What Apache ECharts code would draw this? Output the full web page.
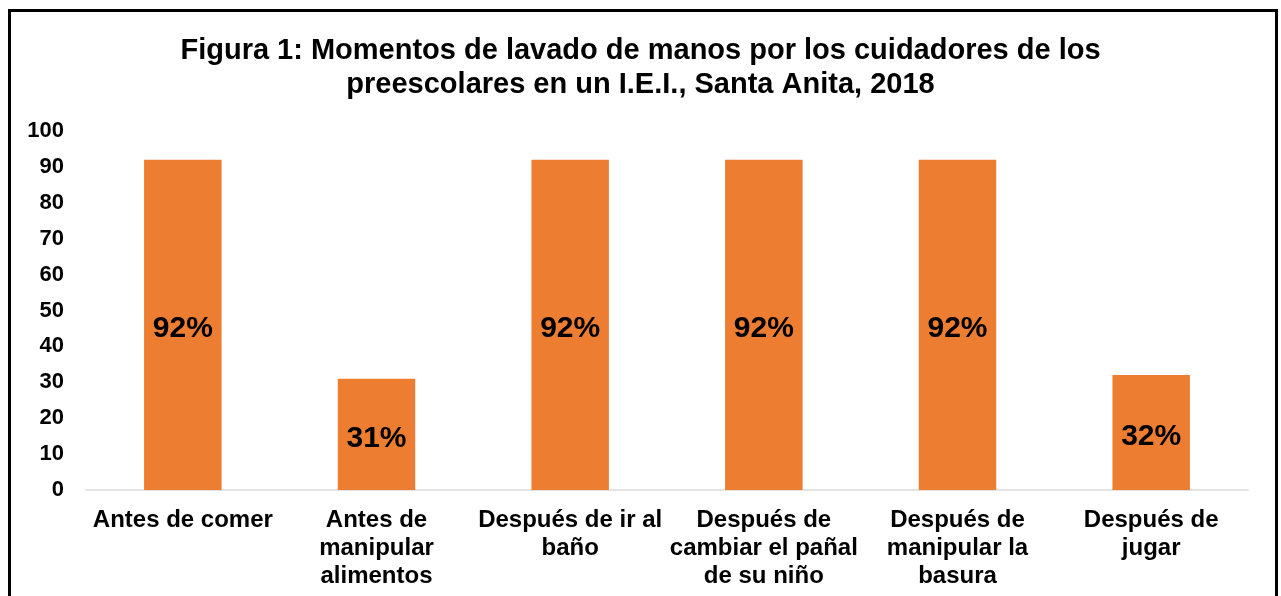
<!DOCTYPE html>
<html>
<head>
<meta charset="utf-8">
<script src="https://cdn.jsdelivr.net/npm/echarts@6/dist/echarts.min.js"></script>
<style>
    html, body { margin: 0; padding: 0; background: #ffffff; }
    #chart { width: 1281px; height: 596px; }
</style>
</head>
<body>
<div id="chart"></div>
<script>
const TITLE = "Figura 1: Momentos de lavado de manos por los cuidadores de los\npreescolares en un I.E.I., Santa Anita, 2018";
const categories = [
    "Antes de comer",
    "Antes de\nmanipular\nalimentos",
    "Después de ir al\nbaño",
    "Después de\ncambiar el pañal\nde su niño",
    "Después de\nmanipular la\nbasura",
    "Después de\njugar",
];
const values = [92, 31, 92, 92, 92, 32];

const FONT = "'Liberation Sans', Arial, sans-serif";

const chart = echarts.init(document.getElementById("chart"));

chart.setOption({
    backgroundColor: "#ffffff",
    animation: false,
    title: {
        text: TITLE,
        left: "center",
        top: 29,
        textStyle: {
            fontFamily: FONT,
            fontSize: 29,
            fontWeight: "bold",
            color: "#000000",
            lineHeight: 34,
        },
    },
    graphic: [
        {
            type: "rect",
            shape: { x: 9.5, y: 10.5, width: 1267, height: 620 },
            style: { fill: "none", stroke: "#000000", lineWidth: 3 },
            silent: true,
        },
    ],
    grid: {
        left: 86,
        right: 33,
        top: 131,
        bottom: 106,
    },
    xAxis: {
        type: "category",
        data: categories,
        axisLine: { show: true, lineStyle: { color: "#d9d9d9", width: 1.5 } },
        axisTick: { show: false },
        axisLabel: {
            interval: 0,
            margin: 16,
            fontFamily: FONT,
            fontSize: 24,
            fontWeight: "bold",
            color: "#000000",
            lineHeight: 28,
        },
    },
    yAxis: {
        type: "value",
        min: 0,
        max: 100,
        interval: 10,
        splitLine: { show: false },
        axisLine: { show: false },
        axisTick: { show: false },
        axisLabel: {
            margin: 22,
            fontFamily: FONT,
            fontSize: 22,
            fontWeight: "bold",
            color: "#000000",
        },
    },
    series: [
        {
            type: "bar",
            data: values,
            barWidth: "40%",
            itemStyle: { color: "#ed7d31" },
            label: {
                show: true,
                position: "inside",
                offset: [0, 4],
                formatter: "{c}%",
                fontFamily: FONT,
                fontSize: 30,
                fontWeight: "bold",
                color: "#000000",
            },
        },
    ],
});
</script>
</body>
</html>
